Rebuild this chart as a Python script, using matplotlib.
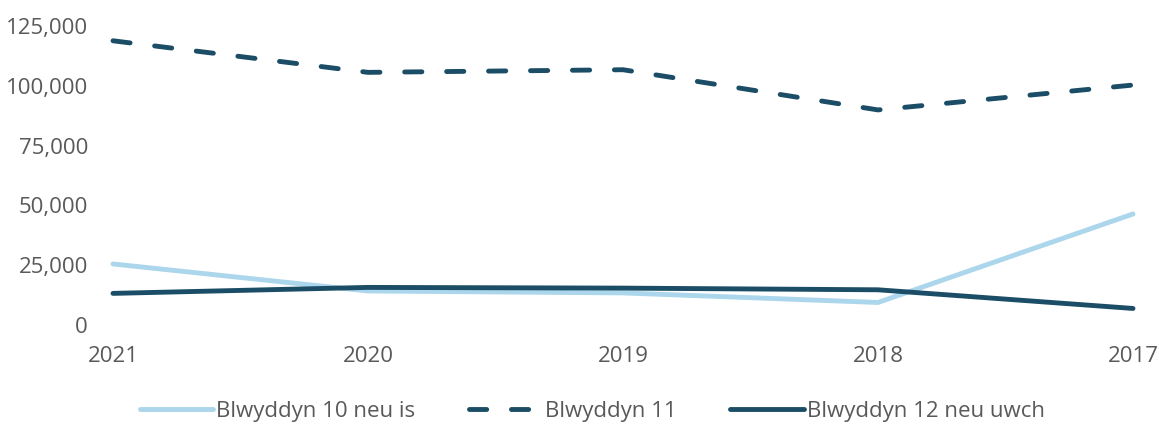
import matplotlib
matplotlib.use("Agg")
import matplotlib.pyplot as plt
from matplotlib.ticker import FuncFormatter

years = ["2021", "2020", "2019", "2018", "2017"]
year10_or_below = [25100, 13800, 13000, 9000, 46000]
year11 = [118400, 105200, 106300, 89500, 99900]
year12_or_above = [12800, 15300, 15000, 14300, 6500]

series_labels = ["Blwyddyn 10 neu is", "Blwyddyn 11", "Blwyddyn 12 neu uwch"]
y_ticks = [0, 25000, 50000, 75000, 100000, 125000]

plt.rcParams['font.family'] = ['Open Sans', 'DejaVu Sans']
plt.rcParams['lines.scale_dashes'] = False

light = "#ABD6EB"
dark = "#1B4D66"
grey = "#595959"
fs = 16

fig = plt.figure(figsize=(11.59, 4.27), dpi=100)
ax = fig.add_axes([113/1159, 1-325/427, (1133-113)/1159, (325-26)/427])

x = list(range(len(years)))
lw = 3.5
ax.plot(x, year10_or_below, color=light, lw=lw, solid_capstyle='round', solid_joinstyle='round',
        clip_on=False, label=series_labels[0], zorder=2)
ax.plot(x, year11, color=dark, lw=lw, dashes=(12.4, 17.8), dash_capstyle='round', dash_joinstyle='round',
        clip_on=False, label=series_labels[1], zorder=3)
ax.plot(x, year12_or_above, color=dark, lw=lw, solid_capstyle='round', solid_joinstyle='round',
        clip_on=False, label=series_labels[2], zorder=3)

ax.set_xlim(0, len(years) - 1)
ax.set_ylim(0, 125000)
ax.set_xticks(x)
ax.set_xticklabels(years)
ax.set_yticks(y_ticks)
ax.yaxis.set_major_formatter(FuncFormatter(lambda v, p: f"{int(v):,}"))
for s in ax.spines.values():
    s.set_visible(False)
ax.tick_params(axis='both', length=0, labelsize=fs, labelcolor=grey)
ax.tick_params(axis='y', pad=18)
ax.tick_params(axis='x', pad=15)

leg = fig.legend(loc='center', bbox_to_anchor=(0.511, 1-412/427), ncol=3, frameon=False,
                 fontsize=fs, handlelength=3.3, handletextpad=0.15, columnspacing=2.4)
for t in leg.get_texts():
    t.set_color(grey)

fig.savefig("out.png", dpi=100)
